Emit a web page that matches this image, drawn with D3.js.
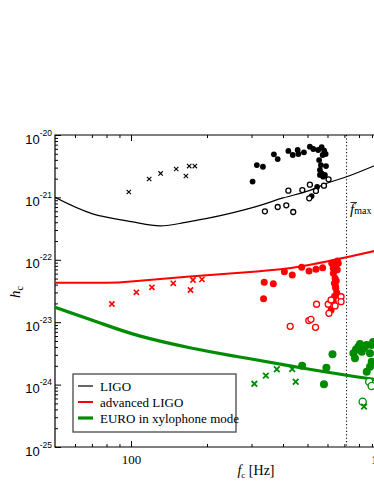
<!DOCTYPE html>
<html>
<head>
<meta charset="utf-8">
<script src="https://cdn.jsdelivr.net/npm/d3@7"></script>
<style>
  body { margin: 0; background: #fff; }
  svg { display: block; font-family: "Liberation Serif", "DejaVu Serif", serif; }
</style>
</head>
<body>
<svg id="chart" width="374" height="484"></svg>
<script>
// frequency in Hz, characteristic strain h_c
const ligoCurveF = [50, 70, 100, 130, 160, 200, 300, 400, 500, 600, 714, 900, 1000];
const ligoCurveH = [1.0e-21, 5.5e-22, 4.1e-22, 3.5e-22, 3.9e-22, 4.6e-22, 6.8e-22, 9.8e-22, 1.26e-21, 1.70e-21, 2.14e-21, 3.1e-21, 3.7e-21];
const advCurveF = [50, 80, 100, 171, 315, 467, 714, 919, 1000];
const advCurveH = [4.27e-23, 4.3e-23, 4.5e-23, 5.4e-23, 6.5e-23, 7.8e-23, 1.10e-22, 1.38e-22, 1.51e-22];
const euroCurveF = [50, 75, 108, 171, 250, 300, 470, 714, 900, 1000];
const euroCurveH = [1.74e-23, 9.8e-24, 6.03e-24, 3.9e-24, 2.92e-24, 2.57e-24, 1.86e-24, 1.41e-24, 1.23e-24, 1.15e-24];

const ligoFilled = [[303,1.79e-21],[315,3.30e-21],[333,3.10e-21],[368,4.91e-21],[381,4.12e-21],[420,5.55e-21],[437,4.78e-21],[457,5.75e-21],[460,4.96e-21],[484,5.28e-21],[511,6.49e-21],[527,5.97e-21],[551,5.75e-21],[569,6.36e-21],[582,5.60e-21],[590,4.96e-21],[574,4.78e-21],[556,3.97e-21],[565,3.30e-21],[592,3.18e-21],[560,2.75e-21],[569,2.43e-21],[577,2.15e-21],[560,2.29e-21],[586,2.29e-21],[546,1.48e-21],[519,1.05e-21]];
const ligoOpen = [[339,5.98e-22],[381,7.02e-22],[412,7.47e-22],[439,5.83e-22],[420,1.28e-21],[477,1.31e-21],[511,1.60e-21],[540,1.27e-21],[581,1.54e-21],[606,1.95e-21],[508,9.68e-22]];
const ligoCross = [[98,1.22e-21],[118,1.97e-21],[131,2.42e-21],[151,2.85e-21],[165,2.20e-21],[170,3.18e-21],[179,3.18e-21]];

const advFilled = [[337,4.36e-23],[366,4.14e-23],[335,2.38e-23],[405,6.44e-23],[435,5.70e-23],[474,7.59e-23],[507,6.62e-23],[540,7.05e-23],[574,7.47e-23],[624,8.79e-23],[643,7.75e-23],[662,8.79e-23],[657,9.57e-23],[633,6.08e-23],[643,5.06e-23],[639,4.20e-23],[647,3.49e-23],[653,2.97e-23],[633,2.13e-23],[620,1.57e-23],[656,6.9e-23],[632,7.4e-23],[650,4.6e-23],[645,3.8e-23],[640,2.6e-23]];
const advOpen = [[543,1.94e-23],[604,1.94e-23],[620,2.27e-23],[679,2.56e-23],[679,2.13e-23],[643,1.82e-23],[608,1.39e-23],[506,1.06e-23],[516,1.11e-23],[427,8.59e-24],[538,8.28e-24]];
const advCross = [[84,1.96e-23],[105,3.01e-23],[121,3.62e-23],[147,4.20e-23],[172,3.28e-23],[176,4.74e-23],[191,4.86e-23]];

const euroFilled = [[476,2.01e-24],[594,1.87e-24],[628,3.06e-24],[581,1.01e-24],[760,3.18e-24],[795,4.05e-24],[820,3.36e-24],[771,2.64e-24],[858,4.32e-24],[898,4.32e-24],[884,3.18e-24],[898,2.33e-24],[858,1.61e-24],[884,1.94e-24],[909,4.82e-24],[778,3.66e-24],[837,3.86e-24],[807,4.47e-24]];
const euroOpen = [[878,1.11e-24],[898,9.50e-25],[827,5.32e-25]];
const euroCross = [[308,1.03e-24],[342,1.39e-24],[378,1.76e-24],[435,1.78e-24],[449,1.11e-24],[837,4.43e-25]];

const fMax = 714;
const xMajorTicks = [100, 1000];
const xMinorTicks = [60, 70, 80, 90, 200, 300, 400, 500, 600, 700, 800, 900, 2000];
const yExponents = [-25, -24, -23, -22, -21, -20];
const legendLabels = ['LIGO', 'advanced LIGO', 'EURO in xylophone mode'];

const chart = {
  left: 55, top: 135, bottom: 447, width: 374,
  x: d3.scaleLog().domain([50, 2000]).range([55, 55 + 252.5 * Math.log10(40)]),
  y: d3.scaleLog().domain([1e-25, 1e-20]).range([447, 135]),
  colors: ['#000000', '#ff0000', '#008b00'],
  lineWidths: [1.2, 2, 3.2]
};

const svg = d3.select('#chart');
const x = chart.x, y = chart.y;

svg.append('defs').append('clipPath').attr('id', 'plotclip')
  .append('rect').attr('x', chart.left).attr('y', chart.top)
  .attr('width', 500).attr('height', chart.bottom - chart.top);

// axes, ticks point inward
const yMinor = [];
yExponents.slice(0, -1).forEach(e => { for (let k = 2; k <= 9; k++) yMinor.push(k * Math.pow(10, e)); });
const yMajor = yExponents.map(e => Math.pow(10, e));

const axisStyle = g => {
  g.select('.domain').remove();
  g.selectAll('line').attr('stroke', '#000').attr('stroke-width', 1);
};

svg.append('g').attr('transform', `translate(${chart.left},0)`)
  .call(d3.axisLeft(y).tickValues(yMinor).tickSize(-3).tickFormat(''))
  .call(axisStyle);
const yAx = svg.append('g').attr('transform', `translate(${chart.left},0)`)
  .call(d3.axisLeft(y).tickValues(yMajor).tickSize(-6).tickPadding(4).tickFormat(''))
  .call(axisStyle);
yAx.selectAll('.tick text').remove();
yAx.selectAll('.tick').each(function(d, i) {
  const t = d3.select(this).append('text')
    .attr('x', -3).attr('y', 8)
    .attr('text-anchor', 'end')
    .attr('fill', '#000')
    .style('font-size', '13px');
  t.append('tspan').text('10');
  t.append('tspan').attr('dy', -8).style('font-size', '8.5px').text(yExponents[i]);
});

svg.append('g').attr('transform', `translate(0,${chart.bottom})`)
  .call(d3.axisBottom(x).tickValues(xMinorTicks).tickSize(-3).tickFormat(''))
  .call(axisStyle);
svg.append('g').attr('transform', `translate(0,${chart.bottom})`)
  .call(d3.axisBottom(x).tickValues(xMajorTicks).tickSize(-6).tickPadding(8).tickFormat(d3.format('d')))
  .call(axisStyle)
  .call(g => g.selectAll('text').style('font-size', '13px').attr('fill', '#000').style('font-family', 'Liberation Serif, serif'));
svg.append('g').attr('transform', `translate(0,${chart.top})`)
  .call(d3.axisTop(x).tickValues(xMinorTicks).tickSize(-3).tickFormat(''))
  .call(axisStyle);
svg.append('g').attr('transform', `translate(0,${chart.top})`)
  .call(d3.axisTop(x).tickValues(xMajorTicks).tickSize(-6).tickFormat(''))
  .call(axisStyle);

// frame
svg.append('path')
  .attr('d', `M${chart.width + 2},${chart.top}H${chart.left}V${chart.bottom}H${chart.width + 2}`)
  .attr('fill', 'none').attr('stroke', '#000').attr('stroke-width', 1.2);

const plot = svg.append('g').attr('clip-path', 'url(#plotclip)');

// f_max dotted line
plot.append('line')
  .attr('x1', x(fMax)).attr('x2', x(fMax))
  .attr('y1', chart.top).attr('y2', chart.bottom)
  .attr('stroke', '#000').attr('stroke-width', 1).attr('stroke-dasharray', '1.2,2.2');

// sensitivity curves
const line = d3.line().x(d => x(d[0])).y(d => y(d[1])).curve(d3.curveNatural);
const curves = [
  d3.zip(ligoCurveF, ligoCurveH),
  d3.zip(advCurveF, advCurveH),
  d3.zip(euroCurveF, euroCurveH)
];
curves.forEach((c, i) => {
  plot.append('path').datum(c)
    .attr('d', line)
    .attr('fill', 'none')
    .attr('stroke', chart.colors[i])
    .attr('stroke-width', chart.lineWidths[i]);
});

// markers
const markerSets = [
  { cross: ligoCross, open: ligoOpen, filled: ligoFilled, r: 2.9, ro: 2.5, c: 2.2, cw: 1.1 },
  { cross: advCross, open: advOpen, filled: advFilled, r: 3.5, ro: 3, c: 2.6, cw: 1.6 },
  { cross: euroCross, open: euroOpen, filled: euroFilled, r: 4, ro: 3.6, c: 2.8, cw: 1.8 }
];
markerSets.forEach((s, i) => {
  const col = chart.colors[i];
  plot.selectAll(null).data(s.filled).enter().append('circle')
    .attr('cx', d => x(d[0])).attr('cy', d => y(d[1])).attr('r', s.r)
    .attr('fill', col);
  plot.selectAll(null).data(s.open).enter().append('circle')
    .attr('cx', d => x(d[0])).attr('cy', d => y(d[1])).attr('r', s.ro)
    .attr('fill', '#fff').attr('stroke', col).attr('stroke-width', 1.3);
  plot.selectAll(null).data(s.cross).enter().append('path')
    .attr('transform', d => `translate(${x(d[0])},${y(d[1])})`)
    .attr('d', `M${-s.c},${-s.c}L${s.c},${s.c}M${-s.c},${s.c}L${s.c},${-s.c}`)
    .attr('stroke', col).attr('stroke-width', s.cw);
});

// f_max label
const fl = svg.append('text').attr('x', 350).attr('y', 214).attr('fill', '#000');
fl.append('tspan').style('font-style', 'italic').style('font-size', '15px').text('f');
fl.append('tspan').attr('dy', 0).style('font-size', '10px').text('max');
svg.append('line').attr('x1', 350.5).attr('x2', 357).attr('y1', 202.5).attr('y2', 202.5)
  .attr('stroke', '#000').attr('stroke-width', 0.8);

// axis titles
const xl = svg.append('text').attr('x', 256).attr('y', 475).attr('text-anchor', 'middle')
  .attr('fill', '#000').style('font-size', '14px');
xl.append('tspan').style('font-style', 'italic').text('f');
xl.append('tspan').attr('dy', 3).style('font-size', '9px').text('c');
xl.append('tspan').attr('dy', -3).text(' [Hz]');

const yl = svg.append('text').attr('transform', 'translate(20,292) rotate(-90)')
  .attr('text-anchor', 'middle').attr('fill', '#000').style('font-size', '15px');
yl.append('tspan').style('font-style', 'italic').text('h');
yl.append('tspan').attr('dy', 3).style('font-size', '10px').text('c');

// legend
const legend = svg.append('g').attr('transform', 'translate(73,374)');
legend.append('rect').attr('width', 163).attr('height', 58)
  .attr('fill', '#fff').attr('stroke', '#555').attr('stroke-width', 1.4);
legendLabels.forEach((lab, i) => {
  const ly = 12 + i * 16;
  legend.append('line').attr('x1', 5).attr('x2', 20).attr('y1', ly).attr('y2', ly)
    .attr('stroke', chart.colors[i]).attr('stroke-width', chart.lineWidths[i]);
  legend.append('text').attr('x', 27).attr('y', ly + 4.5).attr('fill', '#000')
    .style('font-size', '13px').text(lab);
});
</script>
</body>
</html>
